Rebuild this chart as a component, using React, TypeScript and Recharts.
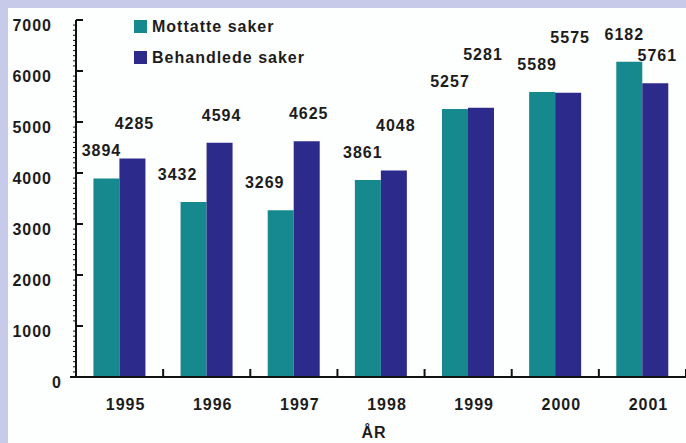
import { BarChart, Bar, XAxis, YAxis, Legend, LabelList } from 'recharts';

const years = ['1995', '1996', '1997', '1998', '1999', '2000', '2001'];
const mottatte = [3894, 3432, 3269, 3861, 5257, 5589, 6182];
const behandlede = [4285, 4594, 4625, 4048, 5281, 5575, 5761];
const yMajor = [0, 1000, 2000, 3000, 4000, 5000, 6000, 7000];
const seriesNames = ['Mottatte saker', 'Behandlede saker'];

const data = years.map((year, i) => ({ year, mottatte: mottatte[i], behandlede: behandlede[i] }));

// minor ticks every 100 between the labelled ones
const yTicks: number[] = [];
for (let v = 0; v <= 7000; v += 100) yTicks.push(v);

const W = 678;
const H = 435;
const M = { top: 12, right: 0, bottom: 0, left: 0 };
const Y_W = 68;
const X_H = 66;
const plotH = H - M.top - X_H;
const band = (W - Y_W) / years.length;
const pxPerUnit = plotH / 7000;

const TEAL = '#16898f';
const BLUE = '#2c2a8a';
const FONT = '"Liberation Sans", Arial, sans-serif';
const txt = { fontFamily: FONT, fontSize: 16, fontWeight: 700, letterSpacing: 1, fill: '#1c1c1c' };

function YTick({ x, y, payload }: any) {
  const v = payload.value;
  if (!yMajor.includes(v)) {
    return <line x1={x - 3} x2={x} y1={y} y2={y} stroke="#111" strokeWidth={1} />;
  }
  return (
    <g>
      <line x1={v === 0 ? x - 6 : x} x2={x + 7} y1={y} y2={y} stroke="#111" strokeWidth={2} />
      <text x={v === 0 ? x - 14 : x - 24} y={y + 11} textAnchor="end" {...txt}>
        {v}
      </text>
    </g>
  );
}

function XTick({ x, y, payload }: any) {
  return (
    <g>
      <line x1={x + band / 2} x2={x + band / 2} y1={y} y2={y - 8} stroke="#111" strokeWidth={2} />
      <text x={x + 6} y={y + 33} textAnchor="middle" {...txt}>
        {payload.value}
      </text>
    </g>
  );
}

function TealLabel(props: any) {
  const { x, y, width, index, value } = props;
  const dx = behandlede[index] - mottatte[index] > 800 ? -16 : -5;
  return (
    <text x={x + width / 2 + dx} y={y - 28 + 6} textAnchor="middle" {...txt}>
      {value}
    </text>
  );
}

function BlueLabel(props: any) {
  const { x, y, width, index, value } = props;
  const tealTop = y + (behandlede[index] - mottatte[index]) * pxPerUnit;
  const tc = tealTop - 28;
  let c = y - 28;
  // lift the label when it would collide with the teal one
  if (c - tc > -21 && c - tc < 15) c = tc - 27;
  return (
    <text x={x + width / 2 + 2} y={c + 6} textAnchor="middle" {...txt}>
      {value}
    </text>
  );
}

function LegendBox() {
  const colors = [TEAL, BLUE];
  return (
    <div style={{ fontFamily: FONT }}>
      {seriesNames.map((name, i) => (
        <div key={name} style={{ display: 'flex', alignItems: 'center', height: 31 }}>
          <div style={{ width: 13, height: 13, background: colors[i], marginRight: 5 }} />
          <span style={{ fontSize: 16, fontWeight: 700, letterSpacing: 1, color: '#1c1c1c' }}>{name}</span>
        </div>
      ))}
    </div>
  );
}

export default function App() {
  return (
    <div style={{ position: 'absolute', left: 0, top: 0, width: 686, height: 443, background: '#c7cbe9' }}>
      <div style={{ position: 'absolute', left: 8, top: 8, width: W, height: H, background: '#fdfefe' }}>
        <BarChart width={W} height={H} data={data} margin={M} barCategoryGap="20%" barGap={0}>
          <YAxis
            domain={[0, 7000]}
            ticks={yTicks}
            interval={0}
            width={Y_W}
            tickSize={0}
            tickMargin={0}
            tickLine={false}
            tick={<YTick />}
            axisLine={{ stroke: '#111', strokeWidth: 2 }}
          />
          <XAxis
            dataKey="year"
            height={X_H}
            tickSize={0}
            tickMargin={0}
            tickLine={false}
            tick={<XTick />}
            axisLine={{ stroke: '#111', strokeWidth: 2 }}
            label={{ value: 'ÅR', position: 'insideBottom', dx: -7, offset: 5, style: { ...txt } }}
          />
          <Legend
            layout="vertical"
            align="center"
            verticalAlign="middle"
            wrapperStyle={{ top: 3, left: 126, width: 260 }}
            content={<LegendBox />}
          />
          <Bar dataKey="mottatte" name={seriesNames[0]} fill={TEAL} isAnimationActive={false}>
            <LabelList dataKey="mottatte" content={<TealLabel />} />
          </Bar>
          <Bar dataKey="behandlede" name={seriesNames[1]} fill={BLUE} isAnimationActive={false}>
            <LabelList dataKey="behandlede" content={<BlueLabel />} />
          </Bar>
        </BarChart>
      </div>
    </div>
  );
}
